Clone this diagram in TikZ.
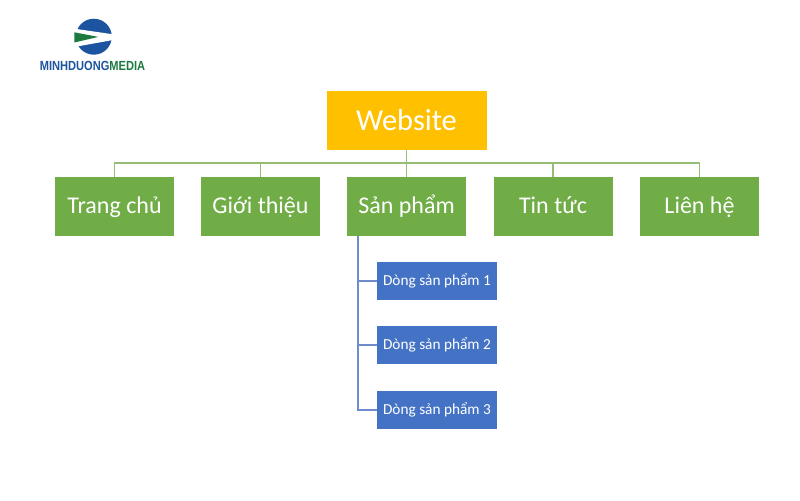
\documentclass[tikz,border=0pt]{standalone}
\usepackage{fontspec}
\setmainfont{Carlito}
\newfontfamily\logofont[FakeStretch=0.84]{Liberation Sans}
\definecolor{mdblue}{RGB}{29,84,159}
\definecolor{mdgreen}{RGB}{27,122,62}
\definecolor{topyellow}{RGB}{255,192,0}
\definecolor{itemgreen}{RGB}{112,173,71}
\definecolor{itemblue}{RGB}{68,114,196}
\definecolor{linegreen}{RGB}{147,190,116}
\definecolor{lineblue}{RGB}{110,140,205}
\tikzset{
  topbox/.style={fill=topyellow,text=white,minimum width=80pt,minimum height=29.5pt,inner sep=0pt,font=\fontsize{15.2}{18}\selectfont},
  menubox/.style={fill=itemgreen,text=white,minimum width=59.5pt,minimum height=29.5pt,inner sep=0pt,text height=8.5pt,text depth=1.5pt,font=\fontsize{12}{14}\selectfont},
  subbox/.style={fill=itemblue,text=white,minimum width=60pt,minimum height=19pt,inner sep=0pt,text height=5.5pt,text depth=1.5pt,font=\fontsize{7.65}{9}\selectfont},
  greenline/.style={draw=linegreen,line width=0.6pt},
  blueline/.style={draw=lineblue,line width=0.6pt}
}
\begin{document}
\begin{tikzpicture}[x=0.50pt,y=0.50pt,yscale=-1,xscale=1]
\useasboundingbox (0,0) rectangle (800,500);

% Logo
\fill [mdblue] (93.8,36.7) circle (9pt);
\fill [white] (73,28.5) -- (113,34.3) -- (113,40) -- (73,47.2) -- cycle ;
\fill [mdgreen] (74.3,32.3) -- (98.3,36.9) -- (74.3,42.5) -- cycle ;
\node (logotext) at (92.5,66) {\logofont\bfseries\fontsize{6.6}{8}\selectfont\textcolor{mdblue}{MINHDUONG}\textcolor{mdgreen}{MEDIA}};

% Boxes
\node [topbox] (website) at (406.5,120.5) {Website};
\node [menubox] (trangchu) at (114.5,206.5) {Trang chủ};
\node [menubox] (gioithieu) at (260.5,206.5) {Giới thiệu};
\node [menubox] (sanpham) at (406.5,206.5) {Sản phẩm};
\node [menubox] (tintuc) at (553,206.5) {Tin tức};
\node [menubox] (lienhe) at (699.5,206.5) {Liên hệ};
\node [subbox] (dong1) at (437,281) {Dòng sản phẩm 1};
\node [subbox] (dong2) at (437,345) {Dòng sản phẩm 2};
\node [subbox] (dong3) at (437,410) {Dòng sản phẩm 3};

% Connection
\coordinate (busleft) at (114.5,163);
\coordinate (busright) at (699.5,163);
\coordinate (trunktop) at (358,236);
\draw [greenline] (website.south) -- (sanpham.north);
\draw [greenline] (trangchu.north) -- (busleft) -- (busright) -- (lienhe.north);
\draw [greenline] (gioithieu.north) -- (gioithieu.north |- busleft);
\draw [greenline] (tintuc.north) -- (tintuc.north |- busleft);
\draw [blueline] (trunktop) |- (dong3.west);
\draw [blueline] (trunktop |- dong1.west) -- (dong1.west);
\draw [blueline] (trunktop |- dong2.west) -- (dong2.west);

\end{tikzpicture}
\end{document}
